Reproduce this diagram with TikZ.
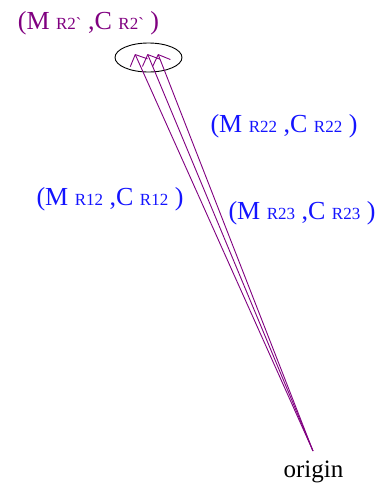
\documentclass[tikz,border=0pt]{standalone}
\usepackage{fontspec}
\setmainfont{Liberation Serif}
\newfontfamily\rawserif{Liberation Serif}
\usetikzlibrary{arrows.meta}
\definecolor{vecpurple}{RGB}{128,0,128}
\definecolor{labblue}{RGB}{20,20,255}
\newcommand{\pairlbl}[1]{(M {\rawserif\fontsize{17}{17}\selectfont #1} ,C {\rawserif\fontsize{17}{17}\selectfont #1} )}

\begin{document}
\begin{tikzpicture}[x=1pt,y=-1pt,
    vec/.style={vecpurple,line width=0.9pt,-{Straight Barb[length=9pt,width=19pt,line width=0.9pt]}},
    lbl/.style={font=\fontsize{26}{26}\selectfont,inner sep=0pt}]
    \useasboundingbox (0,0) rectangle (383,491);
    % end points
    \coordinate (o) at (313,451);
    \coordinate (t1) at (135,54);
    \coordinate (t2) at (147.5,54);
    \coordinate (t3) at (158,54);
    % cluster ellipse
    \draw[line width=0.9pt] (148.5,57.5) ellipse (33.5 and 14.5);
    \draw[vec] (o) -- (t1);
    \draw[vec] (o) -- (t2);
    \draw[vec] (o) -- (t3);
    % labels
    \node[lbl,text=vecpurple] (l2p) at (88.5,23) {\pairlbl{R2`}};
    \node[lbl,text=labblue] (l22) at (284,126) {\pairlbl{R22}};
    \node[lbl,text=labblue] (l12) at (110,199) {\pairlbl{R12}};
    \node[lbl,text=labblue] (l23) at (302,213) {\pairlbl{R23}};
    \node[font=\fontsize{25}{25}\selectfont,inner sep=0pt] (orig) at (313.5,472) {origin};
\end{tikzpicture}
\end{document}
